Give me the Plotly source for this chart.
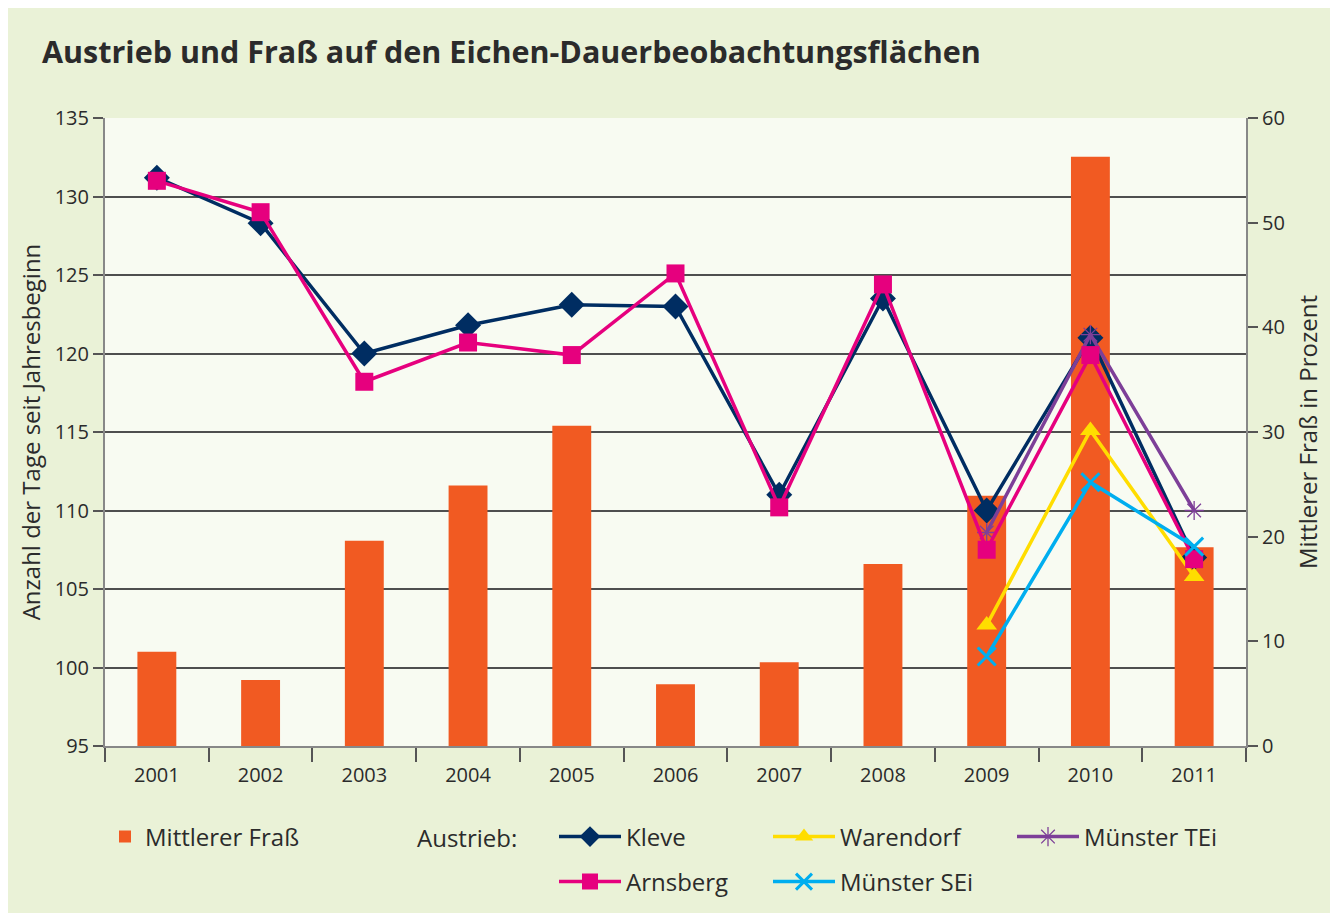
import plotly.graph_objects as go

years = ["2001", "2002", "2003", "2004", "2005", "2006", "2007", "2008", "2009", "2010", "2011"]

# Mittlerer Fraß in Prozent (right axis)
frass = [9.0, 6.3, 19.6, 24.9, 30.6, 5.9, 8.0, 17.4, 23.9, 56.3, 19.0]

# Austrieb: Anzahl der Tage seit Jahresbeginn (left axis)
kleve = [131.2, 128.3, 120.0, 121.8, 123.1, 123.0, 111.0, 123.5, 110.0, 121.0, 107.0]
arnsberg = [131.0, 129.0, 118.2, 120.7, 119.9, 125.1, 110.2, 124.4, 107.5, 119.9, 106.9]
warendorf_years = ["2009", "2010", "2011"]
warendorf = [102.7, 115.1, 105.8]
sei_years = ["2009", "2010", "2011"]
muenster_sei = [100.7, 111.8, 107.7]
tei_years = ["2009", "2010", "2011"]
muenster_tei = [108.6, 121.2, 110.0]

ORANGE = "#F15A22"
NAVY = "#002D62"
MAGENTA = "#E6007E"
YELLOW = "#FFDD00"
CYAN = "#00AEEF"
PURPLE = "#7D3F98"
FONT = "Open Sans"
TXT = "#2b2b2b"

W, H = 1326, 905

fig = go.Figure()

fig.add_trace(go.Bar(
    x=years, y=frass, name="Mittlerer Fraß", marker_color=ORANGE,
    marker_line_width=0, yaxis="y", legend="legend", showlegend=True,
))

fig.add_trace(go.Scatter(
    x=years, y=kleve, name="Kleve", mode="lines+markers", yaxis="y2",
    line=dict(color=NAVY, width=3.5), legendwidth=137,
    marker=dict(symbol="diamond", size=20, color=NAVY), legend="legend2",
))
fig.add_trace(go.Scatter(
    x=warendorf_years, y=warendorf, name="Warendorf", mode="lines+markers", yaxis="y2",
    line=dict(color=YELLOW, width=3.5), legendwidth=167,
    marker=dict(symbol="triangle-up", size=18, color=YELLOW), legend="legend2",
))
fig.add_trace(go.Scatter(
    x=tei_years, y=muenster_tei, name="Münster TEi", mode="lines+markers", yaxis="y2",
    line=dict(color=PURPLE, width=3.5),
    marker=dict(symbol="asterisk-open", size=16, color=PURPLE, line=dict(color=PURPLE, width=1.3)),
    legend="legend2",
))
fig.add_trace(go.Scatter(
    x=years, y=arnsberg, name="Arnsberg", mode="lines+markers", yaxis="y2",
    line=dict(color=MAGENTA, width=3.5), legendwidth=137,
    marker=dict(symbol="square", size=18, color=MAGENTA), legend="legend3",
))
fig.add_trace(go.Scatter(
    x=sei_years, y=muenster_sei, name="Münster SEi", mode="lines+markers", yaxis="y2",
    line=dict(color=CYAN, width=3.5),
    marker=dict(symbol="x-thin-open", size=18, color=CYAN, line=dict(color=CYAN, width=3)),
    legend="legend3",
))

legend_common = dict(
    orientation="h", bgcolor="rgba(0,0,0,0)", font=dict(family=FONT, size=24, color=TXT),
    xref="container", yref="container", xanchor="left", yanchor="middle",
    itemwidth=62, tracegroupgap=0, visible=True,
)

fig.update_layout(
    width=W, height=H,
    showlegend=True,
    paper_bgcolor="#EAF2D7",
    plot_bgcolor="#F8FBF2",
    margin=dict(l=97, r=88, t=110, b=167, autoexpand=False),
    title=dict(
        text="<b>Austrieb und Fraß auf den Eichen-Dauerbeobachtungsflächen</b>",
        font=dict(family=FONT, size=30.5, color=TXT),
        x=34 / W, xanchor="left", xref="container",
        y=1 - 44 / H, yanchor="middle", yref="container",
    ),
    bargap=0.625,
    xaxis=dict(
        type="category", range=[-0.5, len(years) - 0.5], tickson="boundaries",
        ticks="outside", ticklen=14, ticklabelstandoff=10,
        tickwidth=1.5, tickcolor="#555", showline=True, linecolor="#888", linewidth=2,
        showgrid=False, automargin=False, tickfont=dict(family=FONT, size=20, color=TXT),
    ),
    yaxis=dict(
        side="right", range=[0, 60], dtick=10, tick0=0, showgrid=False,
        ticks="outside", ticklen=10, tickwidth=1.5, tickcolor="#555",
        showline=True, linecolor="#888", linewidth=2, zeroline=False, automargin=False,
        tickfont=dict(family=FONT, size=20, color=TXT),
        title=dict(text="Mittlerer Fraß in Prozent", font=dict(family=FONT, size=24, color=TXT), standoff=16),
    ),
    yaxis2=dict(
        overlaying="y", side="left", range=[95, 135], dtick=5, tick0=95,
        showgrid=True, gridcolor="#4f4f4f", gridwidth=1.5,
        ticks="outside", ticklen=10, tickwidth=1.5, tickcolor="#555",
        showline=True, linecolor="#888", linewidth=2, zeroline=False, automargin=False,
        tickfont=dict(family=FONT, size=20, color=TXT),
        title=dict(text="Anzahl der Tage seit Jahresbeginn", font=dict(family=FONT, size=24, color=TXT), standoff=7),
    ),
    legend=dict(legend_common, itemwidth=30, x=97 / W, y=1 - 829 / H),
    legend2=dict(legend_common, x=546 / W, y=1 - 829 / H),
    legend3=dict(legend_common, x=546 / W, y=1 - 874 / H),
    annotations=[dict(
        text="Austrieb:", xref="paper", yref="paper",
        x=310 / 1141, y=(746 - 837) / 628, xanchor="left", yanchor="middle",
        showarrow=False, font=dict(family=FONT, size=24, color=TXT),
    )],
)

fig.write_html("out.html")
